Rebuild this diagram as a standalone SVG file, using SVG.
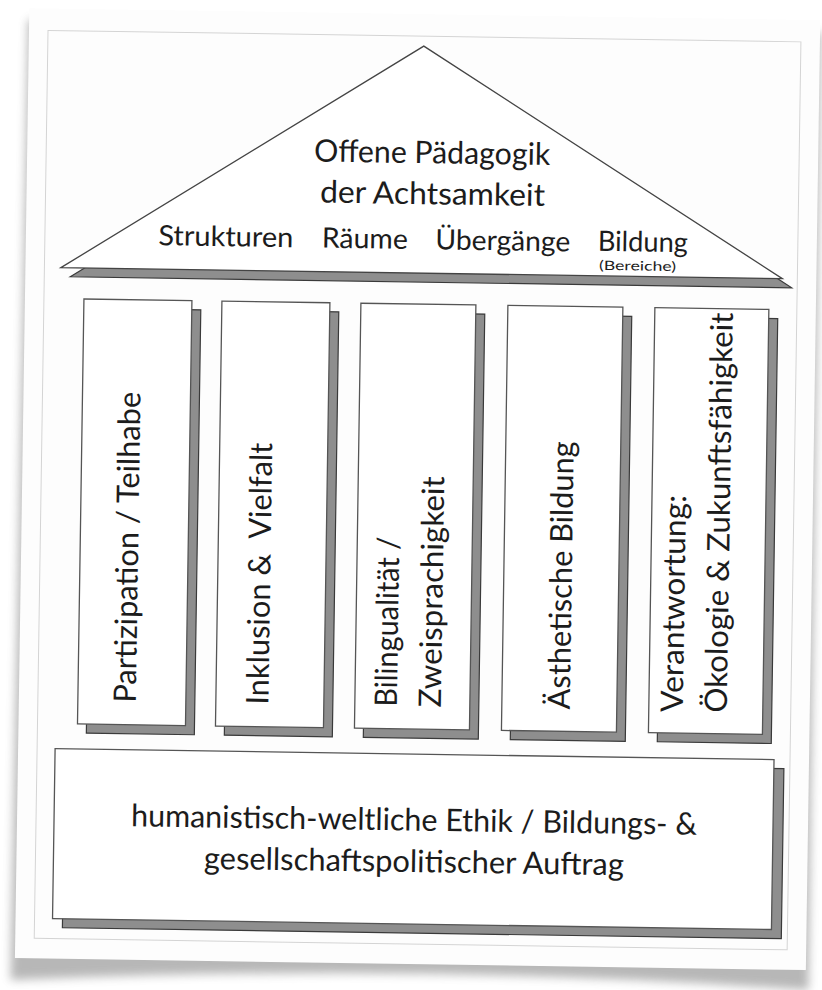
<svg xmlns="http://www.w3.org/2000/svg" width="822" height="990" viewBox="0 0 822 990">
  <defs>
    <filter id="soft" x="-10%" y="-10%" width="120%" height="120%">
      <feGaussianBlur stdDeviation="5"/>
    </filter>
    <style>
      .sheet { fill: #fdfdfd; }
      .frame { fill: none; stroke: #d4d4d4; stroke-width: 1; }
      .card { fill: #ffffff; stroke: #555555; stroke-width: 1.3; }
      .shade { fill: #8e8e8e; stroke: #3a3a3a; stroke-width: 1.2; }
      .roofline { fill: #ffffff; stroke: #444444; stroke-width: 1.3; stroke-linejoin: miter; }
      .lbl { font-family: Lato, "Open Sans", sans-serif; fill: #1c1c1c; }
      .big { font-size: 31px; }
      .mid { font-size: 28px; }
      .small { font-size: 13px; }
      .col { font-size: 31px; }
    </style>
  </defs>

  <rect width="822" height="990" fill="#ffffff"/>

  <g transform="rotate(0.87 411 495)">
    <!-- sheet with lifted-corner shadow -->
    <g id="sheet">
      <path d="M 21 26 L 814 26 L 816 984 Q 420 962 18 986 Z" fill="#555" opacity="0.42" filter="url(#soft)"/>
      <rect class="sheet" x="22" y="14" width="791" height="950"/>
      <rect class="frame" x="41" y="36" width="753" height="908"/>
    </g>

    <!-- roof -->
    <g id="roof">
      <polygon class="shade" points="67,282 426.5,55 788.5,282"/>
      <polygon class="roofline" points="57.5,273 417,46 779,273"/>
      <text class="lbl big" x="427" y="163" text-anchor="middle" textLength="236" lengthAdjust="spacingAndGlyphs">Offene Pädagogik</text>
      <text class="lbl big" x="428" y="204" text-anchor="middle" textLength="225" lengthAdjust="spacingAndGlyphs">der Achtsamkeit</text>
      <text class="lbl mid" x="222" y="249" text-anchor="middle" textLength="135" lengthAdjust="spacingAndGlyphs">Strukturen</text>
      <text class="lbl mid" x="361" y="249" text-anchor="middle" textLength="86" lengthAdjust="spacingAndGlyphs">Räume</text>
      <text class="lbl mid" x="499" y="249" text-anchor="middle" textLength="135" lengthAdjust="spacingAndGlyphs">Übergänge</text>
      <text class="lbl mid" x="639" y="248" text-anchor="middle" textLength="90" lengthAdjust="spacingAndGlyphs">Bildung</text>
      <text class="lbl small" x="634" y="267" text-anchor="middle" textLength="77" lengthAdjust="spacingAndGlyphs">(Bereiche)</text>
    </g>

    <!-- pillars -->
    <g id="pillar-partizipation">
      <rect class="shade" x="90" y="313" width="108" height="425"/>
      <rect class="card" x="81" y="304" width="108" height="425"/>
      <text class="lbl col" transform="translate(139 707) rotate(-90)" textLength="311" lengthAdjust="spacingAndGlyphs">Partizipation / Teilhabe</text>
    </g>

    <g id="pillar-inklusion">
      <rect class="shade" x="228" y="313" width="108" height="425"/>
      <rect class="card" x="219" y="304" width="108" height="425"/>
      <text class="lbl col" xml:space="preserve" transform="translate(271.5 707) rotate(-90)" textLength="262" lengthAdjust="spacingAndGlyphs">Inklusion &amp;  Vielfalt</text>
    </g>

    <g id="pillar-bilingualitaet">
      <rect class="shade" x="367" y="313" width="115" height="425"/>
      <rect class="card" x="358" y="304" width="115" height="425"/>
      <text class="lbl col" transform="translate(400 707) rotate(-90)" textLength="170" lengthAdjust="spacingAndGlyphs">Bilingualität /</text>
      <text class="lbl col" transform="translate(444 707) rotate(-90)" textLength="231" lengthAdjust="spacingAndGlyphs">Zweisprachigkeit</text>
    </g>

    <g id="pillar-aesthetik">
      <rect class="shade" x="514" y="313" width="115" height="425"/>
      <rect class="card" x="505" y="304" width="115" height="425"/>
      <text class="lbl col" transform="translate(573 707) rotate(-90)" textLength="268" lengthAdjust="spacingAndGlyphs">Ästhetische Bildung</text>
    </g>

    <g id="pillar-verantwortung">
      <rect class="shade" x="661" y="313" width="114" height="425"/>
      <rect class="card" x="652" y="304" width="114" height="425"/>
      <text class="lbl col" transform="translate(686 708) rotate(-90)" textLength="217" lengthAdjust="spacingAndGlyphs">Verantwortung:</text>
      <text class="lbl col" transform="translate(730 708) rotate(-90)" textLength="400" lengthAdjust="spacingAndGlyphs">Ökologie &amp; Zukunftsfähigkeit</text>
    </g>

    <!-- foundation -->
    <g id="foundation">
      <rect class="shade" x="69" y="763" width="719" height="170"/>
      <rect class="card" x="59" y="754" width="719" height="170"/>
      <text class="lbl big" x="419" y="830.5" text-anchor="middle" textLength="566" lengthAdjust="spacingAndGlyphs">humanistisch-weltliche Ethik / Bildungs- &amp;</text>
      <text class="lbl big" x="419.5" y="872" text-anchor="middle" textLength="420" lengthAdjust="spacingAndGlyphs">gesellschaftspolitischer Auftrag</text>
    </g>
  </g>
</svg>
